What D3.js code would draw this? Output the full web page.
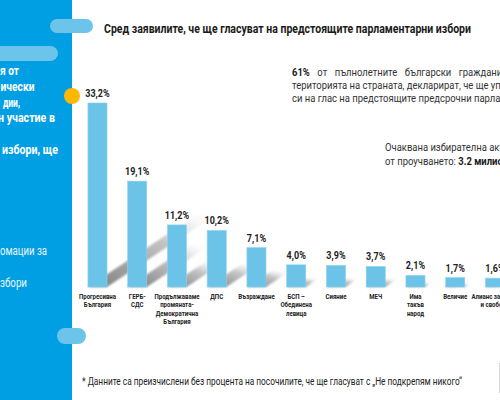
<!DOCTYPE html>
<html><head><meta charset="utf-8">
<script src="https://cdn.jsdelivr.net/npm/d3@7"></script>
<style>html,body{margin:0;padding:0;background:#fff;overflow:hidden}svg{display:block}</style>
</head><body>
<div id="chart"></div>
<script>
// ---- data ----
const categories = [
  "Прогресивна\nБългария",
  "ГЕРБ-\nСДС",
  "Продължаваме\nпромяната-\nДемократична\nБългария",
  "ДПС",
  "Възраждане",
  "БСП –\nОбединена\nлевица",
  "Сияние",
  "МЕЧ",
  "Има\nтакъв\nнарод",
  "Величие",
  "Алианс за права\nи свободи"
];
const values = [33.2, 19.1, 11.2, 10.2, 7.1, 4.0, 3.9, 3.7, 2.1, 1.7, 1.6];
const titleText = "Сред заявилите, че ще гласуват на предстоящите парламентарни избори";
const leftBoldLines = ["я от", "ически", "дии,", "н участие в", "", "избори, ще"];
const leftLightLines = ["омации за", "", "збори"];
const noteLines = [
  ["61%", " от пълнолетните български граждани, живеещи на"],
  ["", "територията на страната, декларират, че ще упражнят правото"],
  ["", "си на глас на предстоящите предсрочни парламентарни избори."]
];
const turnoutLines = [["Очаквана избирателна активност според данните", ""], ["от проучването: ", "3.2 милиона"]];
const footnote = "* Данните са преизчислени без процента на посочилите, че ще гласуват с „Не подкрепям никого“";

// ---- drawing ----
const W = 500, H = 400;
const svg = d3.select("#chart").append("svg").attr("width", W).attr("height", H);
const FONT = "Roboto, 'Liberation Sans', sans-serif";
const SX = 0.86;

const defs = svg.append("defs");
const grad = defs.append("linearGradient").attr("id", "shg")
  .attr("x1", 0).attr("y1", 1).attr("x2", 0.8).attr("y2", 0);
grad.append("stop").attr("offset", 0).attr("stop-color", "#6e6e6e").attr("stop-opacity", 0.9);
grad.append("stop").attr("offset", 0.65).attr("stop-color", "#9a9a9a").attr("stop-opacity", 0.6);
grad.append("stop").attr("offset", 1).attr("stop-color", "#c8c8c8").attr("stop-opacity", 0.05);
defs.append("filter").attr("id", "blur").attr("x", "-20%").attr("y", "-20%").attr("width", "140%").attr("height", "140%")
  .append("feGaussianBlur").attr("stdDeviation", 1.3);

// left panel
svg.append("rect").attr("x", 0).attr("y", 0).attr("width", 72).attr("height", H).attr("fill", "#009FE3");
svg.append("rect").attr("x", 50).attr("y", 19).attr("width", 43).attr("height", 14).attr("rx", 7).attr("fill", "#6CC4EA");
svg.append("rect").attr("x", -12).attr("y", 46).attr("width", 70).attr("height", 15).attr("rx", 7.5).attr("fill", "#6CC4EA");
svg.append("rect").attr("x", 57).attr("y", 328).attr("width", 29).attr("height", 16).attr("rx", 8).attr("fill", "#6CC4EA");
svg.append("rect").attr("x", 499).attr("y", 363).attr("width", 1).attr("height", 30).attr("fill", "#d6d6d6");

const leftG = svg.append("g").attr("font-family", FONT).attr("fill", "#fff");
const boldX = [0, 0.5, 3, -2, 0, 2];
const boldLen = [19, 34, 17, 57, 0, 56];
leftBoldLines.forEach((t, i) => {
  if (!t) return;
  leftG.append("text").attr("x", boldX[i]).attr("y", 75 + i * 15.8)
    .attr("font-size", 12.5).attr("font-weight", 700)
    .attr("textLength", boldLen[i]).attr("lengthAdjust", "spacingAndGlyphs").text(t);
});
const lightLen = [47, 0, 27];
leftLightLines.forEach((t, i) => {
  if (!t) return;
  leftG.append("text").attr("x", 0).attr("y", 255 + i * 16)
    .attr("font-size", 12.5).attr("font-weight", 400).attr("fill", "#e8f6fd")
    .attr("textLength", lightLen[i]).attr("lengthAdjust", "spacingAndGlyphs").text(t);
});

// title
svg.append("text").attr("x", 104).attr("y", 33).attr("font-family", FONT)
  .attr("font-size", 13).attr("font-weight", 700).attr("fill", "#1a1a1a")
  .attr("textLength", 367).attr("lengthAdjust", "spacingAndGlyphs").text(titleText);

// right notes
const noteG = svg.append("g").attr("font-family", FONT).attr("font-size", 11).attr("fill", "#333");
noteLines.forEach((pair, i) => {
  const t = noteG.append("text").attr("transform", `translate(292,${76 + i * 13}) scale(${SX},1)`)
    .attr("word-spacing", i === 0 ? 6 : 0);
  if (pair[0]) t.append("tspan").attr("font-weight", 700).attr("fill", "#1a1a1a").text(pair[0]);
  t.append("tspan").text(pair[1]);
});
turnoutLines.forEach((pair, i) => {
  const t = noteG.append("text").attr("transform", `translate(385,${151 + i * 14}) scale(${SX},1)`);
  t.append("tspan").text(pair[0]);
  if (pair[1]) t.append("tspan").attr("font-weight", 700).attr("fill", "#1a1a1a").text(pair[1]);
});

// scales
const x = d3.scaleBand().domain(categories).range([77.6, 514.85]).paddingInner(0.52).paddingOuter(0.26);
const y = d3.scaleLinear().domain([0, 35]).range([287, 93]);
const data = categories.map((c, i) => ({ c, v: values[i] }));

// shadows
const shG = svg.append("g").attr("filter", "url(#blur)");
shG.selectAll("path").data(data).join("path")
  .attr("d", d => {
    const x0 = x(d.c), x1 = x0 + x.bandwidth(), b = y(0), h = y(0) - y(d.v);
    const dx = 0.6 * h, dy = 0.4 * h;
    return `M${x0},${b}L${x1},${b}L${x1 + dx},${b - dy}L${x0 + dx},${b - dy}Z`;
  })
  .attr("fill", "url(#shg)");

// bars
svg.append("g").selectAll("rect").data(data).join("rect")
  .attr("x", d => x(d.c)).attr("width", x.bandwidth())
  .attr("y", d => y(d.v)).attr("height", d => y(0) - y(d.v))
  .attr("fill", "#6BC3E8").attr("stroke", "#8fd2ef").attr("stroke-width", 0.6);

// value labels
const fmt = v => d3.format(".1f")(v).replace(".", ",") + "%";
svg.append("g").attr("font-family", FONT).attr("font-size", 10.5).attr("font-weight", 700).attr("fill", "#222")
  .selectAll("text").data(data).join("text")
  .attr("transform", d => `translate(${x(d.c) + x.bandwidth() / 2},${y(d.v) - 6}) scale(${SX},1)`)
  .attr("text-anchor", "middle").text(d => fmt(d.v));

// category labels
const catG = svg.append("g").attr("font-family", FONT).attr("font-size", 7.6).attr("font-weight", 700).attr("fill", "#222");
data.forEach(d => {
  d.c.split("\n").forEach((line, j) => {
    catG.append("text")
      .attr("transform", `translate(${x(d.c) + x.bandwidth() / 2},${299 + j * 8.4}) scale(0.8,1)`)
      .attr("text-anchor", "middle").text(line);
  });
});

// yellow dot
svg.append("circle").attr("cx", 72).attr("cy", 96).attr("r", 8).attr("fill", "#FFB800");

// footnote
svg.append("text").attr("x", 82).attr("y", 385).attr("font-family", FONT)
  .attr("font-size", 10.5).attr("fill", "#222")
  .attr("textLength", 380).attr("lengthAdjust", "spacingAndGlyphs").text(footnote);
</script>
</body></html>
